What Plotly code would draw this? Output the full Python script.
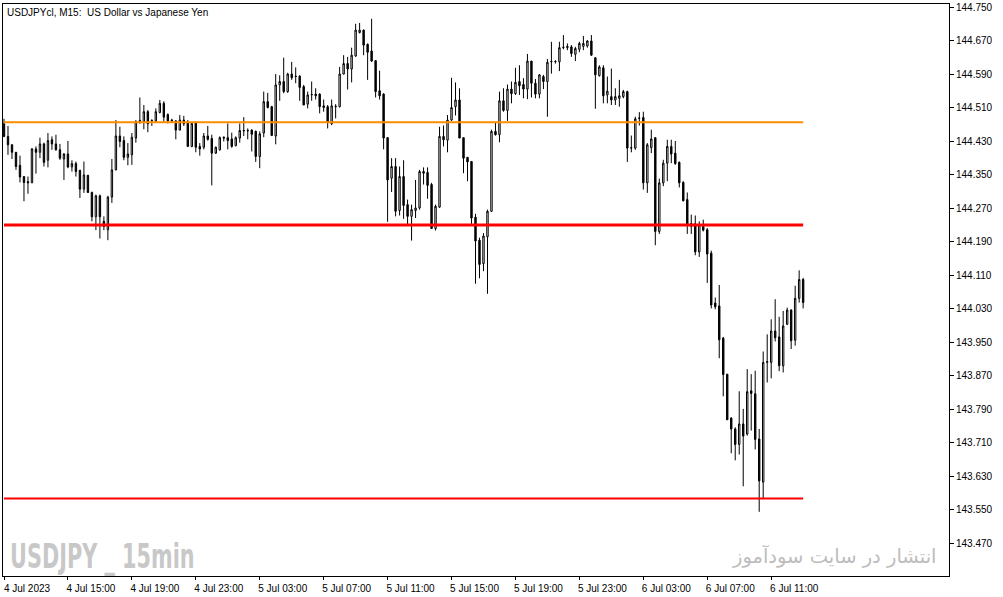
import pandas as pd
import plotly.graph_objects as go

# ---------------- data ----------------
start_time = "2023-07-04 11:00"

open_ = [
    144.472, 144.442, 144.422, 144.404, 144.373, 144.346, 144.334, 144.331, 144.412, 144.404,
    144.424, 144.385, 144.434, 144.424, 144.410, 144.388, 144.400, 144.369, 144.377, 144.361,
    144.316, 144.349, 144.308, 144.250, 144.300, 144.239, 144.219, 144.297, 144.362, 144.443,
    144.432, 144.392, 144.398, 144.438, 144.477, 144.477, 144.501, 144.479, 144.479, 144.499,
    144.521, 144.494, 144.481, 144.479, 144.457, 144.481, 144.475, 144.418, 144.475, 144.418,
    144.416, 144.443, 144.437, 144.402, 144.410, 144.440, 144.439, 144.436, 144.420, 144.438,
    144.455, 144.455, 144.457, 144.454, 144.394, 144.450, 144.525, 144.513, 144.443, 144.565,
    144.573, 144.549, 144.591, 144.586, 144.586, 144.561, 144.519, 144.541, 144.543, 144.543,
    144.515, 144.513, 144.472, 144.513, 144.513, 144.591, 144.616, 144.603, 144.634, 144.690,
    144.696, 144.662, 144.646, 144.623, 144.551, 144.543, 144.439, 144.342, 144.370, 144.265,
    144.346, 144.279, 144.251, 144.265, 144.271, 144.358, 144.356, 144.327, 144.222, 144.273,
    144.442, 144.433, 144.481, 144.513, 144.529, 144.439, 144.392, 144.382, 144.249, 144.194,
    144.138, 144.202, 144.263, 144.454, 144.446, 144.527, 144.504, 144.555, 144.544, 144.573,
    144.566, 144.555, 144.622, 144.569, 144.543, 144.585, 144.573, 144.620, 144.620, 144.620,
    144.654, 144.654, 144.656, 144.638, 144.650, 144.657, 144.658, 144.670, 144.630, 144.587,
    144.606, 144.541, 144.537, 144.529, 144.533, 144.537, 144.549, 144.414, 144.414, 144.485,
    144.487, 144.331, 144.415, 144.439, 144.215, 144.331, 144.378, 144.418, 144.402, 144.380,
    144.332, 144.291, 144.227, 144.233, 144.166, 144.227, 144.219, 144.163, 144.044, 144.037,
    143.960, 143.874, 143.769, 143.743, 143.706, 143.755, 143.731, 143.834, 143.827, 143.719,
    143.616, 143.902, 143.902, 143.977, 143.963, 143.894, 143.993, 144.027, 143.955, 144.055,
    144.100,
]

high = [
    144.484, 144.467, 144.423, 144.404, 144.396, 144.346, 144.346, 144.414, 144.418, 144.439,
    144.427, 144.450, 144.442, 144.446, 144.424, 144.402, 144.431, 144.385, 144.382, 144.362,
    144.382, 144.350, 144.310, 144.303, 144.303, 144.251, 144.300, 144.388, 144.481, 144.465,
    144.442, 144.426, 144.450, 144.481, 144.535, 144.517, 144.505, 144.483, 144.509, 144.529,
    144.526, 144.497, 144.484, 144.481, 144.493, 144.491, 144.481, 144.475, 144.477, 144.426,
    144.450, 144.467, 144.446, 144.418, 144.442, 144.442, 144.473, 144.451, 144.442, 144.473,
    144.488, 144.461, 144.459, 144.456, 144.454, 144.549, 144.546, 144.515, 144.591, 144.588,
    144.630, 144.594, 144.620, 144.607, 144.588, 144.565, 144.549, 144.573, 144.557, 144.545,
    144.530, 144.517, 144.530, 144.519, 144.608, 144.636, 144.632, 144.654, 144.711, 144.713,
    144.697, 144.664, 144.723, 144.624, 144.599, 144.545, 144.440, 144.390, 144.390, 144.370,
    144.385, 144.291, 144.279, 144.338, 144.362, 144.368, 144.368, 144.331, 144.279, 144.465,
    144.468, 144.493, 144.582, 144.571, 144.557, 144.439, 144.392, 144.382, 144.257, 144.200,
    144.211, 144.267, 144.458, 144.477, 144.549, 144.557, 144.566, 144.573, 144.606, 144.612,
    144.581, 144.639, 144.622, 144.579, 144.591, 144.589, 144.627, 144.668, 144.624, 144.668,
    144.684, 144.664, 144.660, 144.656, 144.668, 144.682, 144.672, 144.684, 144.630, 144.612,
    144.612, 144.585, 144.604, 144.557, 144.577, 144.553, 144.551, 144.444, 144.489, 144.500,
    144.501, 144.426, 144.458, 144.439, 144.341, 144.386, 144.434, 144.434, 144.431, 144.382,
    144.335, 144.308, 144.255, 144.253, 144.239, 144.243, 144.223, 144.169, 144.057, 144.087,
    143.963, 143.874, 143.771, 143.747, 143.833, 143.791, 143.886, 143.874, 143.882, 143.743,
    143.928, 143.969, 144.005, 144.053, 144.011, 144.025, 144.033, 144.029, 144.085, 144.122,
    144.104,
]

low = [
    144.440, 144.398, 144.388, 144.362, 144.332, 144.287, 144.305, 144.331, 144.353, 144.390,
    144.370, 144.368, 144.410, 144.408, 144.386, 144.338, 144.366, 144.358, 144.346, 144.295,
    144.307, 144.307, 144.239, 144.218, 144.198, 144.218, 144.194, 144.283, 144.361, 144.416,
    144.385, 144.373, 144.374, 144.427, 144.472, 144.459, 144.452, 144.467, 144.476, 144.497,
    144.477, 144.473, 144.477, 144.435, 144.457, 144.467, 144.418, 144.416, 144.404, 144.396,
    144.411, 144.432, 144.325, 144.400, 144.408, 144.430, 144.411, 144.415, 144.418, 144.427,
    144.443, 144.435, 144.406, 144.381, 144.366, 144.440, 144.509, 144.444, 144.423, 144.527,
    144.545, 144.546, 144.577, 144.569, 144.527, 144.517, 144.509, 144.527, 144.530, 144.497,
    144.501, 144.461, 144.469, 144.485, 144.511, 144.590, 144.554, 144.571, 144.632, 144.688,
    144.636, 144.577, 144.620, 144.535, 144.530, 144.411, 144.238, 144.309, 144.251, 144.253,
    144.245, 144.230, 144.193, 144.247, 144.267, 144.327, 144.293, 144.222, 144.217, 144.271,
    144.418, 144.404, 144.479, 144.492, 144.438, 144.354, 144.335, 144.233, 144.090, 144.103,
    144.120, 144.066, 144.262, 144.444, 144.428, 144.501, 144.479, 144.521, 144.541, 144.541,
    144.533, 144.531, 144.535, 144.533, 144.533, 144.555, 144.489, 144.592, 144.616, 144.598,
    144.650, 144.648, 144.632, 144.622, 144.643, 144.648, 144.654, 144.635, 144.508, 144.585,
    144.521, 144.521, 144.517, 144.517, 144.513, 144.533, 144.381, 144.404, 144.410, 144.468,
    144.315, 144.307, 144.402, 144.182, 144.209, 144.323, 144.335, 144.378, 144.374, 144.320,
    144.287, 144.209, 144.209, 144.158, 144.154, 144.215, 144.092, 144.031, 144.029, 143.912,
    143.821, 143.765, 143.685, 143.668, 143.682, 143.606, 143.727, 143.739, 143.694, 143.545,
    143.575, 143.854, 143.864, 143.952, 143.881, 143.878, 143.992, 143.934, 143.942, 144.045,
    144.031,
]

close = [
    144.442, 144.422, 144.404, 144.370, 144.345, 144.332, 144.331, 144.412, 144.404, 144.424,
    144.380, 144.432, 144.424, 144.410, 144.390, 144.400, 144.369, 144.377, 144.358, 144.316,
    144.350, 144.308, 144.250, 144.300, 144.250, 144.227, 144.297, 144.362, 144.443, 144.430,
    144.392, 144.400, 144.440, 144.477, 144.480, 144.501, 144.472, 144.480, 144.501, 144.521,
    144.488, 144.479, 144.479, 144.457, 144.481, 144.472, 144.418, 144.473, 144.416, 144.412,
    144.443, 144.435, 144.402, 144.416, 144.439, 144.438, 144.432, 144.418, 144.439, 144.456,
    144.456, 144.456, 144.447, 144.394, 144.448, 144.525, 144.511, 144.444, 144.565, 144.573,
    144.549, 144.591, 144.582, 144.585, 144.559, 144.517, 144.541, 144.542, 144.539, 144.513,
    144.511, 144.475, 144.515, 144.514, 144.591, 144.616, 144.603, 144.636, 144.696, 144.696,
    144.660, 144.643, 144.622, 144.549, 144.539, 144.438, 144.338, 144.370, 144.263, 144.346,
    144.277, 144.251, 144.267, 144.271, 144.358, 144.354, 144.325, 144.222, 144.275, 144.442,
    144.434, 144.481, 144.511, 144.529, 144.438, 144.390, 144.381, 144.247, 144.192, 144.136,
    144.204, 144.263, 144.454, 144.446, 144.527, 144.504, 144.555, 144.544, 144.571, 144.563,
    144.555, 144.622, 144.569, 144.543, 144.589, 144.573, 144.619, 144.621, 144.621, 144.654,
    144.655, 144.657, 144.640, 144.652, 144.664, 144.664, 144.670, 144.636, 144.589, 144.608,
    144.539, 144.550, 144.529, 144.537, 144.539, 144.549, 144.414, 144.415, 144.484, 144.486,
    144.331, 144.422, 144.436, 144.215, 144.331, 144.378, 144.418, 144.400, 144.377, 144.331,
    144.288, 144.231, 144.234, 144.166, 144.231, 144.218, 144.161, 144.039, 144.035, 143.956,
    143.873, 143.765, 143.743, 143.706, 143.755, 143.726, 143.832, 143.828, 143.718, 143.619,
    143.902, 143.904, 143.977, 143.961, 143.894, 143.989, 144.027, 143.954, 144.055, 144.100,
    144.045,
]

level_orange = 144.476
level_red_upper = 144.230
level_red_lower = 143.577

x_tick_labels = [
    "4 Jul 2023", "4 Jul 15:00", "4 Jul 19:00", "4 Jul 23:00", "5 Jul 03:00",
    "5 Jul 07:00", "5 Jul 11:00", "5 Jul 15:00", "5 Jul 19:00", "5 Jul 23:00",
    "6 Jul 03:00", "6 Jul 07:00", "6 Jul 11:00",
]
bars_per_label = 16

y_tick_values = [
    144.750, 144.670, 144.590, 144.510, 144.430, 144.350, 144.270, 144.190, 144.110,
    144.030, 143.950, 143.870, 143.790, 143.710, 143.630, 143.550, 143.470,
]

title_text = "USDJPYcl, M15:\u00a0 US Dollar vs Japanese Yen"
watermark_text = "USDJPY _ 15min"
persian_text = "انتشار در سایت سودآموز"

# ---------------- figure ----------------
times = pd.date_range(start_time, periods=len(open_), freq="15min")
bar_step = pd.Timedelta(minutes=15)

fig = go.Figure()
fig.add_trace(go.Candlestick(
    x=times, open=open_, high=high, low=low, close=close,
    increasing=dict(line=dict(color="#000000", width=1), fillcolor="#ffffff"),
    decreasing=dict(line=dict(color="#000000", width=1), fillcolor="#000000"),
    whiskerwidth=0, showlegend=False, hoverinfo="x+y",
))

for lvl, col, w in [(level_orange, "#ff8c00", 2),
                    (level_red_upper, "#ff0000", 3),
                    (level_red_lower, "#ff0000", 2)]:
    fig.add_trace(go.Scatter(
        x=[times[0], times[-1]], y=[lvl, lvl], mode="lines",
        line=dict(color=col, width=w), showlegend=False, hoverinfo="skip",
    ))

x0 = times[0] - bar_step * 0.25
x1 = times[0] + bar_step * 236.5

font_small = dict(family="Liberation Sans, Arial, sans-serif", size=10, color="#000000")

fig.update_layout(
    width=1003, height=597,
    margin=dict(l=2, r=54, t=2, b=21, pad=0),
    paper_bgcolor="#ffffff", plot_bgcolor="#ffffff",
    boxgap=0.5,
    showlegend=False,
    xaxis=dict(
        range=[x0, x1], rangeslider=dict(visible=False),
        showgrid=False, zeroline=False,
        showline=True, linecolor="#000000", linewidth=1, mirror=True,
        ticks="outside", ticklen=3, tickcolor="#000000", tickwidth=1,
        tickvals=list(times[::bars_per_label][:len(x_tick_labels)]),
        ticktext=x_tick_labels,
        tickfont=font_small, ticklabelshift=23,
        ticklabeloverflow="allow",
    ),
    yaxis=dict(
        side="right",
        range=[143.3917, 144.7583],
        showgrid=False, zeroline=False,
        showline=True, linecolor="#000000", linewidth=1, mirror=True,
        ticks="outside", ticklen=4, tickcolor="#000000", tickwidth=1,
        tickvals=y_tick_values,
        ticktext=[f"{v:.3f}" for v in y_tick_values],
        tickfont=font_small,
        ticklabeloverflow="allow",
    ),
    annotations=[
        dict(text=title_text, xref="paper", yref="paper", x=0, y=1,
             xanchor="left", yanchor="top", xshift=2, yshift=-1,
             showarrow=False, font=font_small),
        dict(text="<b>" + watermark_text + "</b>", xref="paper", yref="paper",
             x=0, y=0, xanchor="left", yanchor="bottom", xshift=5, yshift=-2,
             showarrow=False,
             font=dict(family="DejaVu Sans Condensed, sans-serif",
                       size=34, color="#c8c8c8")),
        dict(text=persian_text, xref="paper", yref="paper",
             x=1, y=0, xanchor="right", yanchor="bottom", xshift=-11, yshift=6,
             showarrow=False,
             font=dict(family="DejaVu Sans, Noto Sans, sans-serif", size=19.5, color="#bdbdbd")),
    ],
)

post_js = """
document.body.style.margin='0px';
document.querySelectorAll('text.annotation-text').forEach(function(t){
  if (t.textContent.indexOf('USDJPY _') === 0) {
    t.style.transformBox = 'fill-box';
    t.style.transformOrigin = '0% 100%';
    t.style.transform = 'scaleX(0.68)';
  }
});
"""

fig.write_html("out.html", config={"displayModeBar": False}, post_script=post_js)
